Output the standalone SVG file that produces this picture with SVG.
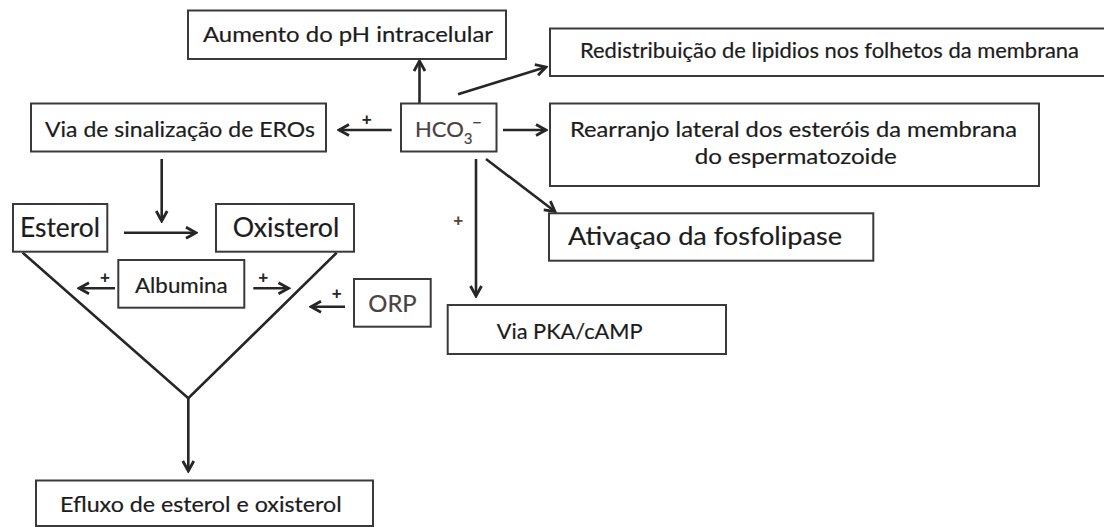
<svg xmlns="http://www.w3.org/2000/svg" width="1104" height="527" viewBox="0 0 1104 527">
<style>
.box{fill:#fff;stroke:#3a3a3a;stroke-width:2}
.t{font-family:Lato,"Open Sans","Liberation Sans",sans-serif;fill:#1c1c1c;stroke:#1c1c1c;stroke-width:0.2}
.g{fill:#4a4242;stroke:#4a4242}
.ln{fill:none;stroke:#262626;stroke-width:2.6}
.pl{font-family:"Liberation Sans",sans-serif;font-size:17px;font-weight:bold;fill:#262626;text-anchor:middle}
.pb{fill:#5a4438}
</style>
<defs>
<marker id="ah" viewBox="0 0 14 14" refX="12" refY="7" markerWidth="14" markerHeight="14" markerUnits="userSpaceOnUse" orient="auto">
<path d="M2,1.5 L12,7 L2,12.5" fill="none" stroke="#262626" stroke-width="2.8"/>
</marker>
</defs>
<rect width="1104" height="527" fill="#fff"/>

<g id="connectors">
<line class="ln" x1="419.5" y1="103" x2="419.5" y2="61" marker-end="url(#ah)"/>
<line class="ln" x1="391.7" y1="130" x2="339" y2="130" marker-end="url(#ah)"/>
<line class="ln" x1="458" y1="94.3" x2="546" y2="67" marker-end="url(#ah)"/>
<line class="ln" x1="503" y1="130" x2="546" y2="130" marker-end="url(#ah)"/>
<line class="ln" x1="486" y1="159" x2="555" y2="211.5" marker-end="url(#ah)"/>
<line class="ln" x1="476" y1="159" x2="476" y2="296" marker-end="url(#ah)"/>
<line class="ln" x1="161.7" y1="159" x2="161.7" y2="221" marker-end="url(#ah)"/>
<line class="ln" x1="124" y1="232.7" x2="196" y2="232.7" marker-end="url(#ah)"/>
<polyline class="ln" points="22.7,252.7 188.3,398.3 336.7,252.7"/>
<line class="ln" x1="188.3" y1="398.3" x2="188.3" y2="471" marker-end="url(#ah)"/>
<line class="ln" x1="115" y1="288.3" x2="79" y2="288.3" marker-end="url(#ah)"/>
<line class="ln" x1="253.3" y1="288.3" x2="288.5" y2="288.3" marker-end="url(#ah)"/>
<line class="ln" x1="345" y1="306.7" x2="311" y2="306.7" marker-end="url(#ah)"/>
<text class="pl" x="366.7" y="124.5">+</text>
<text class="pl pb" x="458.3" y="226">+</text>
<text class="pl" x="105" y="282.5">+</text>
<text class="pl" x="263.3" y="282.5">+</text>
<text class="pl" x="336.7" y="299">+</text>
</g>

<g id="aumento">
<rect class="box" x="188" y="10.5" width="318" height="48.5"/>
<text class="t" x="203" y="41.7" font-size="22" textLength="290" lengthAdjust="spacingAndGlyphs">Aumento do pH intracelular</text>
</g>

<g id="redistribuicao">
<rect class="box" x="550" y="28.5" width="560" height="47.5"/>
<text class="t" x="580" y="58.3" font-size="21" textLength="499" lengthAdjust="spacingAndGlyphs">Redistribuição de lipidios nos folhetos da membrana</text>
</g>

<g id="via-eros">
<rect class="box" x="31" y="103.5" width="295" height="48"/>
<text class="t" x="45" y="136.7" font-size="22" textLength="270" lengthAdjust="spacingAndGlyphs">Via de sinalização de EROs</text>
</g>

<g id="hco3">
<rect class="box" x="401" y="103.5" width="95.5" height="48"/>
<text class="t g" x="415" y="136.7" font-size="22">HCO<tspan font-size="15" dy="7.5">3</tspan><tspan font-size="17" dx="-0.5" dy="-16">−</tspan></text>
</g>

<g id="rearranjo">
<rect class="box" x="550" y="103.5" width="489" height="82.5"/>
<text class="t" x="570" y="137.3" font-size="22" textLength="447" lengthAdjust="spacingAndGlyphs">Rearranjo lateral dos esteróis da membrana</text>
<text class="t" x="694.7" y="164" font-size="22" textLength="202" lengthAdjust="spacingAndGlyphs">do espermatozoide</text>
</g>

<g id="esterol">
<rect class="box" x="13" y="204" width="94.3" height="47.7"/>
<text class="t" x="20" y="236.7" font-size="27" textLength="80" lengthAdjust="spacingAndGlyphs">Esterol</text>
</g>

<g id="oxisterol">
<rect class="box" x="216" y="204" width="138" height="47.7"/>
<text class="t" x="232.7" y="236.7" font-size="27" textLength="106.6" lengthAdjust="spacingAndGlyphs">Oxisterol</text>
</g>

<g id="ativacao">
<rect class="box" x="549" y="213.3" width="324.3" height="47.4"/>
<text class="t" x="568" y="245" font-size="25" textLength="274" lengthAdjust="spacingAndGlyphs">Ativaçao da fosfolipase</text>
</g>

<g id="albumina">
<rect class="box" x="118.3" y="260" width="126" height="47.7"/>
<text class="t" x="135" y="293.3" font-size="21" textLength="92.7" lengthAdjust="spacingAndGlyphs">Albumina</text>
</g>

<g id="orp">
<rect class="box" x="354" y="279" width="76.7" height="47.7"/>
<text class="t g" x="368.3" y="311.7" font-size="23" textLength="48.4" lengthAdjust="spacingAndGlyphs">ORP</text>
</g>

<g id="via-pka">
<rect class="box" x="447.7" y="305" width="278.3" height="49"/>
<text class="t" x="496.7" y="339.3" font-size="22" textLength="146" lengthAdjust="spacingAndGlyphs">Via PKA/cAMP</text>
</g>

<g id="efluxo">
<rect class="box" x="36" y="480.5" width="337" height="45.5"/>
<text class="t" x="60" y="511.7" font-size="22" textLength="281.7" lengthAdjust="spacingAndGlyphs">Efluxo de esterol e oxisterol</text>
</g>
</svg>
